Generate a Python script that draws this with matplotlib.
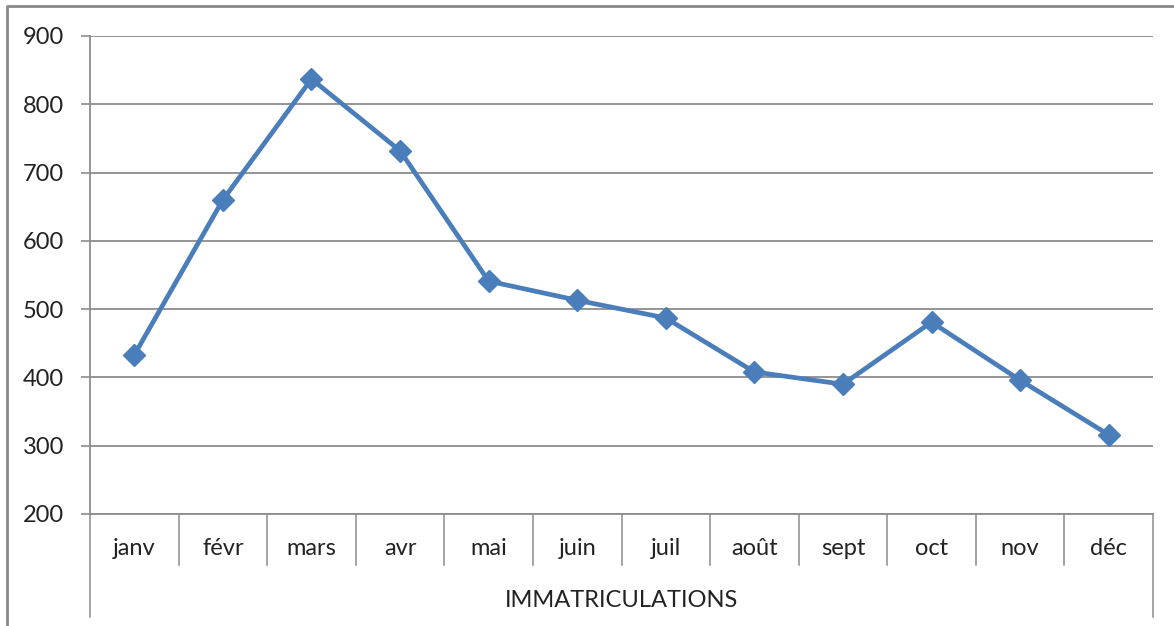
import matplotlib.pyplot as plt
from matplotlib.lines import Line2D

months = ["janv", "févr", "mars", "avr", "mai", "juin", "juil",
          "août", "sept", "oct", "nov", "déc"]
values = [433, 660, 837, 732, 541, 513, 487, 408, 390, 481, 396, 316]
yticks = [200, 300, 400, 500, 600, 700, 800, 900]
group_label = "IMMATRICULATIONS"

grid_col = "#8c8c8c"
line_col = "#4a7ebb"
font = ["Lato", "DejaVu Sans"]

fig = plt.figure(figsize=(11.74, 6.26), dpi=100)
ax = fig.add_axes([90/1174, 1-514/626, (1153-90)/1174, (514-36)/626])

x = list(range(len(months)))
ax.plot(x, values, "-", color=line_col, lw=3.4, marker="D", ms=11,
        mfc=line_col, mec=line_col, zorder=3)

ax.set_xlim(-0.5, len(months) - 0.5)
ax.set_ylim(200, 900)
ax.set_yticks(yticks)
ax.set_yticklabels([str(v) for v in yticks], family=font, size=17, color="#222222")
ax.yaxis.grid(True, color=grid_col, lw=1.3)
ax.set_axisbelow(True)
ax.tick_params(axis="y", length=6.5, width=1.2, color=grid_col, pad=12)

# category labels as text, x ticks off
ax.set_xticks([])
for i, m in enumerate(months):
    ax.text(i, -0.072, m, transform=ax.get_xaxis_transform(), ha="center",
            va="center", family=font, size=17, color="#222222")
ax.text(0.5, -0.18, group_label, transform=ax.transAxes, ha="center",
        va="center", family=font, size=17, color="#222222")

for s in ["top", "right"]:
    ax.spines[s].set_visible(False)
for s in ["left", "bottom"]:
    ax.spines[s].set_color(grid_col)
    ax.spines[s].set_linewidth(1.3)

# category separators and outer group lines
for b in range(1, len(months)):
    ax.plot([b - 0.5, b - 0.5], [0, -0.107], color=grid_col, lw=1.1,
            transform=ax.get_xaxis_transform(), clip_on=False)
for b in [-0.5, len(months) - 0.5]:
    ax.plot([b, b], [0, -0.216], color=grid_col, lw=1.1,
            transform=ax.get_xaxis_transform(), clip_on=False)

# chart area border (top and left visible)
fig.add_artist(Line2D([7/1174, 7/1174, 1.0], [0.0, 1-6/626, 1-6/626],
                      color="#8a8a8a", lw=2, transform=fig.transFigure))

plt.savefig("out.png", dpi=100)
